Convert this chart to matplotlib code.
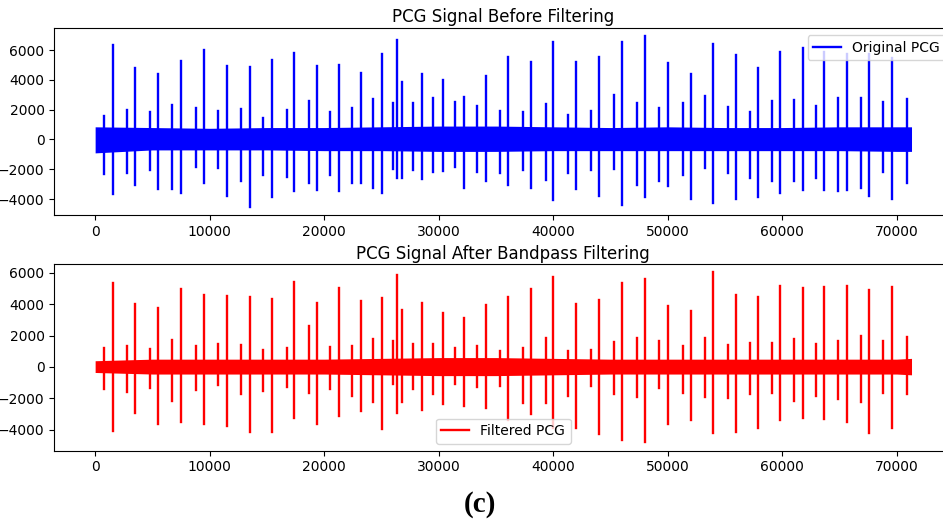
import numpy as np
import matplotlib
matplotlib.use('Agg')
import matplotlib.pyplot as plt

# sample index of each heart-sound burst (S1 / S2)
peak_x = [760, 1520, 2742, 3494, 4777, 5502, 6725, 7485, 8769, 9467,
          10742, 11476, 12751, 13484, 14672, 15432, 16716, 17380, 18638, 19362,
          20498, 21258, 22393, 23179, 24288, 25013, 25973, 26323, 26786, 27773,
          28559, 29520, 30367, 31441, 32201, 33362, 34122, 35345, 36017, 37328,
          38026, 39336, 40000, 41310, 42009, 43293, 43965, 45328, 46026, 47284,
          48009, 49258, 49992, 51301, 52026, 53249, 53974, 55284, 55983, 57179,
          57852, 59100, 59799, 61048, 61782, 62917, 63667, 64890, 65624, 66874,
          67598, 68821, 69581, 70864]

# original signal: max / min of each burst
orig_hi = [1600, 6330, 1980, 4770, 1870, 4410, 2310, 5260, 2090, 5980,
           1910, 4930, 2050, 4840, 1460, 5310, 1980, 5780, 2580, 4950,
           1870, 5010, 2130, 4480, 2720, 5750, 2430, 6670, 3880, 2430,
           4410, 2800, 3970, 2500, 2850, 2270, 4240, 1910, 5550, 1870,
           5220, 2360, 6560, 1650, 5220, 1910, 5510, 2990, 6510, 2430,
           6940, 2140, 5110, 2430, 4370, 2940, 6380, 2200, 5670, 1820,
           4820, 2580, 5890, 2650, 6110, 2270, 5840, 2760, 5710, 2810,
           5710, 2500, 5440, 2720]
orig_lo = [-2330, -3650, -2260, -3050, -2040, -3340, -3310, -3600, -1820, -2930,
           -1930, -3760, -2780, -4500, -2380, -3850, -2490, -3490, -2930, -3380,
           -2380, -3450, -2930, -2900, -3270, -3560, -1970, -2600, -2600, -2040,
           -2640, -2150, -2090, -1820, -3230, -2150, -2820, -2260, -3050, -2040,
           -3230, -2710, -4050, -2260, -3340, -2040, -3760, -1970, -4390, -3050,
           -3870, -2780, -3090, -2380, -4000, -1930, -4270, -2260, -3990, -2600,
           -3830, -2820, -3600, -2820, -3380, -2600, -3380, -3450, -3380, -3270,
           -3760, -2150, -3990, -2930]

# bandpass filtered signal: max / min of each burst
filt_hi = [1230, 5360, 1340, 4000, 1170, 3740, 1700, 4950, 1340, 4600,
           1450, 4550, 1410, 4470, 1060, 4320, 1190, 5430, 2620, 4090,
           1280, 5020, 1340, 4210, 1760, 4380, 1660, 5870, 3610, 1450,
           4100, 1490, 3470, 1230, 3150, 1340, 3930, 1020, 4490, 1230,
           4950, 1870, 5750, 1020, 4040, 1060, 4300, 1620, 5380, 1870,
           5590, 1660, 3900, 1340, 3580, 1870, 6080, 1410, 4600, 1550,
           4470, 1550, 5170, 1760, 5020, 1450, 5110, 1660, 5170, 1980,
           4890, 1660, 5110, 1940]
filt_lo = [-1430, -4080, -1590, -2910, -1360, -3660, -2170, -3490, -1490, -3660,
           -1170, -3760, -1700, -4130, -1530, -4130, -1280, -3230, -1640, -3660,
           -1430, -3150, -1850, -2810, -2210, -3980, -1110, -2910, -2210, -1430,
           -2770, -1750, -2380, -1110, -2490, -1280, -2590, -1210, -3400, -2280,
           -3020, -2280, -3870, -1850, -3870, -1210, -4300, -1750, -4680, -1910,
           -4760, -1320, -3660, -1640, -3400, -1910, -4190, -1960, -4130, -1750,
           -3910, -1640, -3400, -2170, -3230, -1850, -3340, -2060, -3490, -2210,
           -4230, -1640, -3910, -1700]

# background noise band between the bursts
band_x = [0, 5000, 10000, 15000, 20000, 25000, 30000, 35000,
          40000, 45000, 50000, 55000, 60000, 65000, 70000, 71300]
orig_band_hi = [850, 800, 750, 800, 800, 850, 900, 900, 850, 800, 850, 800, 800, 850, 850, 850]
orig_band_lo = [-900, -700, -700, -700, -750, -750, -800, -800, -750, -750, -750, -750, -750, -750, -800, -800]
filt_band_hi = [400, 500, 500, 500, 500, 550, 600, 600, 550, 500, 500, 500, 500, 500, 500, 550]
filt_band_lo = [-350, -450, -450, -450, -450, -500, -550, -550, -500, -450, -450, -450, -450, -450, -450, -500]


def spike_line(xs, hi, lo):
    # one polyline: up to hi, down to lo, break, next burst
    n = len(xs)
    x = np.repeat(np.asarray(xs, dtype=float), 3)
    y = np.empty(3 * n)
    y[0::3] = hi
    y[1::3] = lo
    y[2::3] = np.nan
    return x, y


fig = plt.figure(figsize=(9.43, 5.19), dpi=100)
ax1 = fig.add_axes([0.0576, 0.5857, 0.9523, 0.3603])
ax2 = fig.add_axes([0.0576, 0.1316, 0.9523, 0.3591])

# before filtering
ax1.fill_between(band_x, orig_band_lo, orig_band_hi, color='blue', lw=0)
x, y = spike_line(peak_x, orig_hi, orig_lo)
ax1.plot(x, y, color='blue', lw=1.7, label='Original PCG')
ax1.set_title('PCG Signal Before Filtering', pad=4)
ax1.legend(loc='upper right')

# after filtering
ax2.fill_between(band_x, filt_band_lo, filt_band_hi, color='red', lw=0)
x, y = spike_line(peak_x, filt_hi, filt_lo)
ax2.plot(x, y, color='red', lw=1.7, label='Filtered PCG')
ax2.set_title('PCG Signal After Bandpass Filtering', pad=4)
ax2.legend(loc='lower center')

for ax in (ax1, ax2):
    ax.set_xlim(-3565, 74865)
    ax.set_xticks(range(0, 70001, 10000))
    ax.set_yticks(range(-4000, 6001, 2000))
ax1.set_ylim(-5070, 7480)
ax2.set_ylim(-5340, 6550)

fig.text(0.509, 0.028, '(c)', ha='center', va='center',
         family='Liberation Serif', weight='bold', size=21)

fig.savefig('out.png', dpi=100)
